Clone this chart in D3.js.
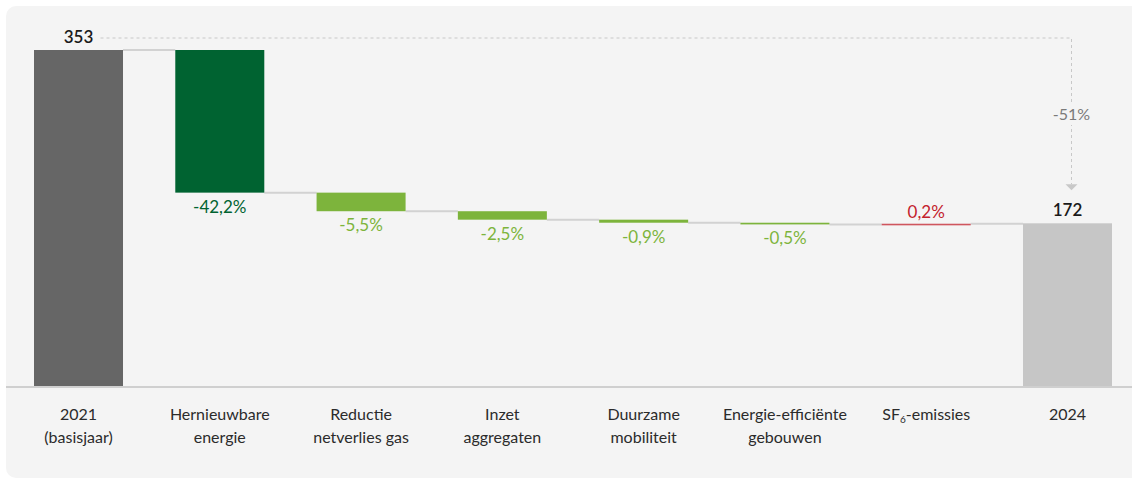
<!DOCTYPE html>
<html>
<head>
<meta charset="utf-8">
<script src="https://cdn.jsdelivr.net/npm/d3@7"></script>
<style>
  html, body { margin: 0; padding: 0; background: #ffffff; }
  svg { display: block; font-family: Lato, "Open Sans", sans-serif; }
</style>
</head>
<body>
<svg id="chart" width="1132" height="479"></svg>
<script>
// Waterfall: CO2 emissions 2021 (base year) to 2024, with contributions per measure
const categories = ["2021\n(basisjaar)", "Hernieuwbare\nenergie", "Reductie\nnetverlies gas",
  "Inzet\naggregaten", "Duurzame\nmobiliteit", "Energie-efficiënte\ngebouwen", "SF6-emissies", "2024"];
const startValue = 353;
const endValue = 172;
const stepPercents = [-42.2, -5.5, -2.5, -0.9, -0.5, 0.2];
const stepLabels = ["-42,2%", "-5,5%", "-2,5%", "-0,9%", "-0,5%", "0,2%"];
const totalChangeLabel = "-51%";

const stepColors = ["#006331", "#7db43c", "#7db43c", "#7db43c", "#7db43c", "#c3222c"];

const W = 1132, H = 479;
const svg = d3.select("#chart");

// rounded panel behind the chart
svg.append("rect")
  .attr("x", 6).attr("y", 6)
  .attr("width", W + 20).attr("height", 472)
  .attr("rx", 10).attr("fill", "#f4f4f4");

const x = d3.scaleBand()
  .domain(d3.range(categories.length))
  .range([34, 1112])
  .paddingInner(0.37)
  .paddingOuter(0);

const y = d3.scaleLinear().domain([0, startValue]).range([388, 50]);
const baseY = 387;

// build waterfall segments
const segs = [];
segs.push({ i: 0, from: 0, to: startValue, color: "#666666", kind: "total" });
let level = startValue;
stepPercents.forEach((p, k) => {
  const next = level + startValue * p / 100;
  segs.push({ i: k + 1, from: level, to: next, color: stepColors[k], kind: "step", label: stepLabels[k], p });
  level = next;
});
segs.push({ i: categories.length - 1, from: 0, to: endValue, color: "#c6c6c6", kind: "total" });

// connector lines between consecutive bars
const conn = svg.append("g").attr("stroke", "#d2d2d2").attr("stroke-width", 2);
for (let k = 0; k < segs.length - 1; k++) {
  const s = segs[k];
  conn.append("line")
    .attr("x1", x(s.i) + x.bandwidth())
    .attr("x2", x(segs[k + 1].i))
    .attr("y1", y(s.to)).attr("y2", y(s.to));
}

// bars
svg.append("g").selectAll("rect").data(segs).join("rect")
  .attr("x", d => x(d.i))
  .attr("width", x.bandwidth())
  .attr("y", d => d.kind === "total" ? y(d.to) : y(Math.max(d.from, d.to)))
  .attr("height", d => {
    if (d.kind === "total") return baseY - y(d.to);
    return Math.max(1.6, Math.abs(y(d.from) - y(d.to)));
  })
  .attr("fill", d => d.color)
  .attr("opacity", d => d.p > 0 ? 0.75 : 1);

// baseline
svg.append("line")
  .attr("x1", 6).attr("x2", W)
  .attr("y1", baseY).attr("y2", baseY)
  .attr("stroke", "#cfcfcf").attr("stroke-width", 2);

// step value labels
svg.append("g").selectAll("text").data(segs.filter(d => d.kind === "step")).join("text")
  .attr("x", d => x(d.i) + x.bandwidth() / 2)
  .attr("y", d => d.p < 0 ? y(d.to) + 20 : y(d.to) - 6)
  .attr("text-anchor", "middle")
  .attr("font-size", 17)
  .attr("fill", d => d.color)
  .text(d => d.label);

// total value labels
const totals = segs.filter(d => d.kind === "total");
svg.append("g").selectAll("text").data(totals).join("text")
  .attr("x", d => x(d.i) + x.bandwidth() / 2)
  .attr("y", d => y(d.to) - 7)
  .attr("text-anchor", "middle")
  .attr("font-size", 17)
  .attr("font-weight", 600)
  .attr("fill", "#1a1a1a")
  .text(d => d.to);

// dashed total-change indicator
const arrowX = x(categories.length - 1) + x.bandwidth() / 2 + 4;
const topY = y(startValue) - 12;
const arrowTip = y(endValue) - 33;
const dash = svg.append("g").attr("stroke", "#c8c8c8").attr("stroke-width", 1).attr("fill", "none")
  .attr("stroke-dasharray", "3,3");
dash.append("path")
  .attr("d", `M${x(0) + x.bandwidth() / 2 + 22},${topY}H${arrowX}V${arrowTip - 6}`);
svg.append("path")
  .attr("d", `M${arrowX - 6},${arrowTip - 6}L${arrowX + 6},${arrowTip - 6}L${arrowX},${arrowTip}Z`)
  .attr("fill", "#c8c8c8");
const midY = 115;
svg.append("rect")
  .attr("x", arrowX - 22).attr("y", midY - 12)
  .attr("width", 44).attr("height", 22)
  .attr("fill", "#f4f4f4");
svg.append("text")
  .attr("x", arrowX).attr("y", midY + 5)
  .attr("text-anchor", "middle")
  .attr("font-size", 16)
  .attr("fill", "#7a7a7a")
  .text(totalChangeLabel);

// category labels
const catG = svg.append("g").attr("font-size", 16).attr("fill", "#2b2b2b").attr("text-anchor", "middle");
categories.forEach((c, i) => {
  const t = catG.append("text").attr("x", x(i) + x.bandwidth() / 2).attr("y", 420);
  c.split("\n").forEach((line, li) => {
    const ts = t.append("tspan").attr("x", x(i) + x.bandwidth() / 2).attr("dy", li === 0 ? 0 : 23);
    if (line.startsWith("SF6")) {
      ts.text("SF");
      ts.append("tspan").attr("font-size", 10).attr("dy", 3).text("6");
      ts.append("tspan").attr("dy", -3).text(line.slice(3));
    } else {
      ts.text(line);
    }
  });
});
</script>
</body>
</html>
